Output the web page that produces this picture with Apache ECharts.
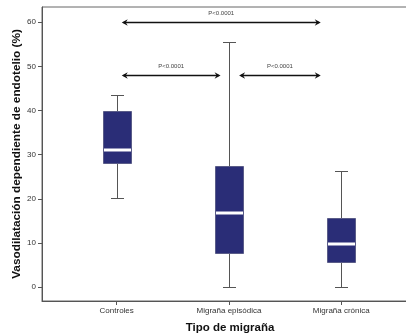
<!DOCTYPE html>
<html><head><meta charset="utf-8">
<script src="https://cdn.jsdelivr.net/npm/echarts@6/dist/echarts.min.js"></script>
<style>html,body{margin:0;padding:0;background:#fff}#c{width:406px;height:334px}</style>
</head><body><div id="c"></div>
<script>
const categories = ['Controles', 'Migraña episódica', 'Migraña crónica'];
const whiskerLow = [20.1, 0, 0];
const q1 = [28.2, 7.6, 5.6];
const median = [31.1, 16.7, 9.7];
const q3 = [39.9, 27.4, 15.6];
const whiskerHigh = [43.6, 55.6, 26.4];
const yTicks = [0, 10, 20, 30, 40, 50, 60];
const compFrom = [1.045, 1.045, 2.09];
const compTo = [2.817, 1.925, 2.817];
const compY = [60, 48, 48];
const compLabel = ['P<0.0001', 'P<0.0001', 'P<0.0001'];

const FONT = 'Liberation Sans';
const boxData = categories.map((c, i) => [i + 1, whiskerLow[i], q1[i], median[i], q3[i], whiskerHigh[i]]);
const compData = compFrom.map((f, i) => [f, compTo[i], compY[i], compLabel[i]]);

const chart = echarts.init(document.getElementById('c'), null, {renderer: 'canvas'});
chart.setOption({
  animation: false,
  backgroundColor: '#fff',
  grid: {left: 42, top: 7, right: -2, bottom: 33, outerBoundsMode: 'none', containLabel: false, show: true, borderColor: '#666', borderWidth: 1, backgroundColor: 'transparent'},
  xAxis: {
    type: 'value', min: 0.335, max: 3.594,
    axisLine: {onZero: false, lineStyle: {color: '#555'}},
    splitLine: {show: false},
    axisTick: {customValues: [1, 2, 3], length: 4, lineStyle: {color: '#555'}},
    axisLabel: {customValues: [1, 2, 3], formatter: v => categories[Math.round(v) - 1] || '', fontSize: 8, color: '#333', fontFamily: FONT, margin: 6},
    name: 'Tipo de migraña', nameLocation: 'middle', nameGap: 21,
    nameTextStyle: {fontSize: 11.5, fontWeight: 'bold', color: '#111', fontFamily: FONT, padding: [0, 0, 0, 10]}
  },
  yAxis: {
    type: 'value', min: -3.17, max: 63.46,
    axisLine: {show: true, onZero: false, lineStyle: {color: '#555'}},
    splitLine: {show: false},
    axisTick: {show: true, customValues: yTicks, length: 4, lineStyle: {color: '#555'}},
    axisLabel: {customValues: yTicks, fontSize: 8, color: '#333', fontFamily: FONT, margin: 6},
    name: 'Vasodilatación dependiente de endotelio (%)', nameLocation: 'middle', nameGap: 19, nameMoveOverlap: false,
    nameTextStyle: {fontSize: 11.8, fontWeight: 'bold', color: '#111', fontFamily: FONT}
  },
  series: [
    {
      type: 'custom', data: boxData, clip: false,
      renderItem: function (params, api) {
        const x = api.value(0);
        const lo = api.coord([x, api.value(1)]);
        const b1 = api.coord([x, api.value(2)]);
        const md = api.coord([x, api.value(3)]);
        const b3 = api.coord([x, api.value(4)]);
        const hi = api.coord([x, api.value(5)]);
        const cx = Math.round(lo[0]) + 0.5;
        const bw = 28, cw = 13;
        const r = v => Math.round(v) + 0.5;
        const ws = {stroke: '#555', lineWidth: 1};
        return {type: 'group', children: [
          {type: 'line', shape: {x1: cx, y1: r(hi[1]), x2: cx, y2: r(b3[1])}, style: ws},
          {type: 'line', shape: {x1: cx, y1: r(b1[1]), x2: cx, y2: r(lo[1])}, style: ws},
          {type: 'line', shape: {x1: cx - cw / 2, y1: r(hi[1]), x2: cx + cw / 2, y2: r(hi[1])}, style: ws},
          {type: 'line', shape: {x1: cx - cw / 2, y1: r(lo[1]), x2: cx + cw / 2, y2: r(lo[1])}, style: ws},
          {type: 'rect', shape: {x: cx - bw / 2, y: r(b3[1]), width: bw, height: Math.round(b1[1]) - Math.round(b3[1])}, style: {fill: '#2a2d77', stroke: '#5a5c88', lineWidth: 1}},
          {type: 'line', shape: {x1: cx - bw / 2 + 0.5, y1: Math.round(md[1]), x2: cx + bw / 2 - 0.5, y2: Math.round(md[1])}, style: {stroke: '#fff', lineWidth: 3}}
        ]};
      }
    },
    {
      type: 'custom', data: compData, clip: false,
      renderItem: function (params, api) {
        const a = api.coord([api.value(0), api.value(2)]);
        const b = api.coord([api.value(1), api.value(2)]);
        const y = Math.round(a[1]) + 0.5;
        const x1 = a[0], x2 = b[0];
        const col = '#111';
        return {type: 'group', children: [
          {type: 'line', shape: {x1: x1 + 2, y1: y, x2: x2 - 2, y2: y}, style: {stroke: col, lineWidth: 1.3}},
          {type: 'polygon', shape: {points: [[x1, y], [x1 + 6, y - 3.2], [x1 + 4, y], [x1 + 6, y + 3.2]]}, style: {fill: col}},
          {type: 'polygon', shape: {points: [[x2, y], [x2 - 6, y - 3.2], [x2 - 4, y], [x2 - 6, y + 3.2]]}, style: {fill: col}},
          {type: 'text', x: (x1 + x2) / 2, y: y - 9, style: {text: api.value(3), fill: '#444', fontSize: 6, fontFamily: FONT, align: 'center', verticalAlign: 'middle'}}
        ]};
      }
    }
  ]
});
</script></body></html>
